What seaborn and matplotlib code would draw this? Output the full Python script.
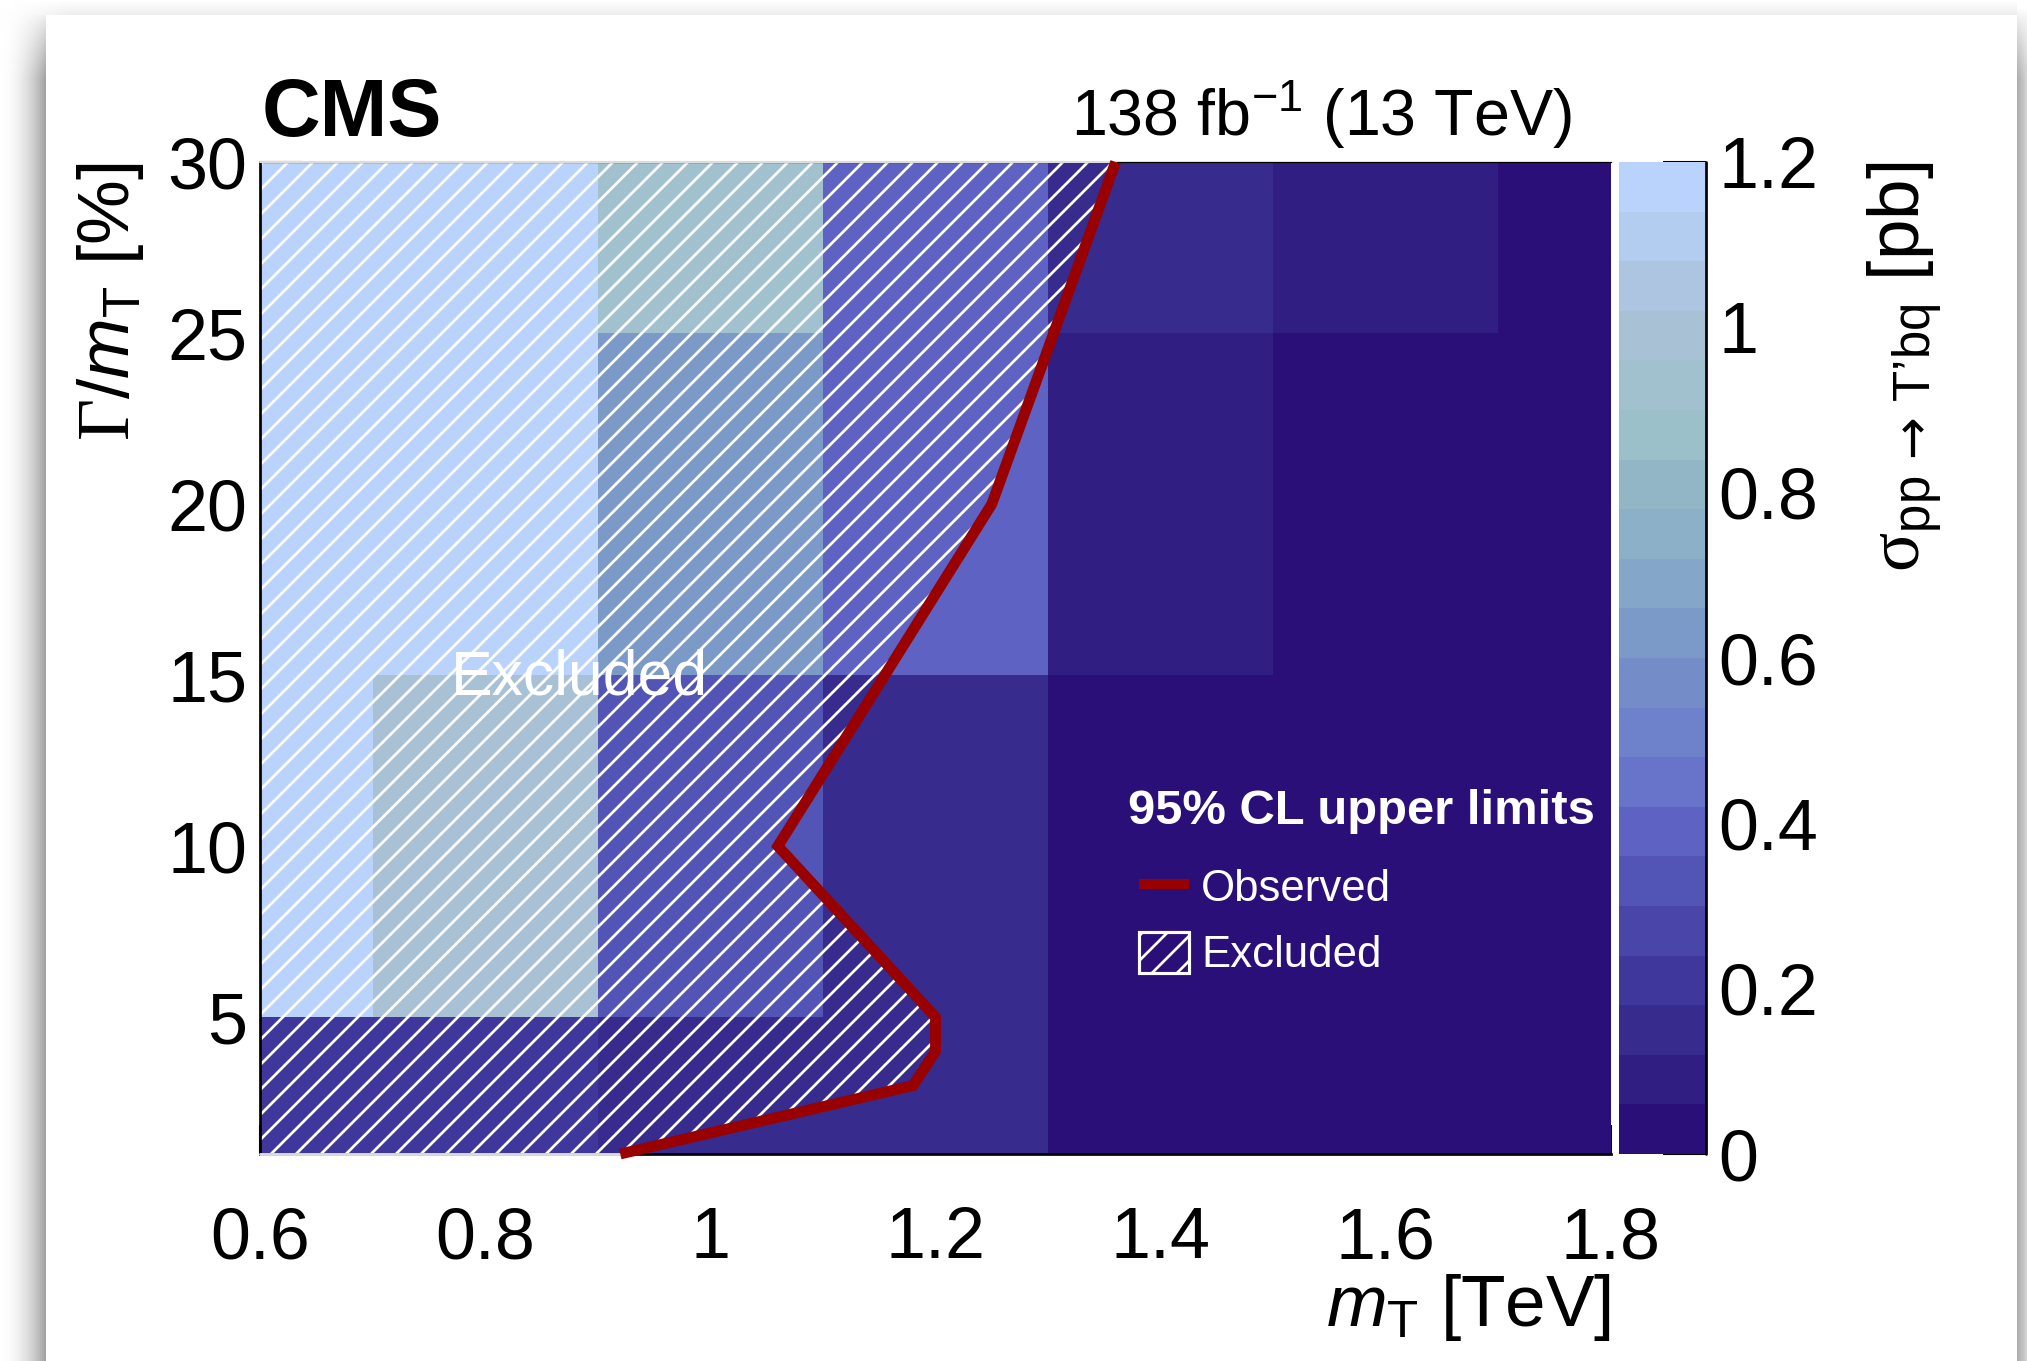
import numpy as np
import matplotlib
matplotlib.use("Agg")
import matplotlib.pyplot as plt
from matplotlib.colors import ListedColormap, BoundaryNorm
from matplotlib.lines import Line2D
from matplotlib.patches import Patch
from matplotlib.ticker import FixedLocator, MultipleLocator, FuncFormatter
import seaborn as sns

# T' mass points [TeV] and relative width points [%]
mass_tev = [0.6, 0.8, 1.0, 1.2, 1.4, 1.6, 1.8]
width_pct = [0, 10, 20, 30]

# observed 95% CL upper limits on sigma(pp -> T'bq) [pb], one list per width point
xsec_w0 = [0.21, 0.21, 0.17, 0.12, 0.04, 0.02, 0.02]
xsec_w10 = [1.25, 0.99, 0.33, 0.15, 0.04, 0.02, 0.02]
xsec_w20 = [1.25, 1.25, 0.63, 0.36, 0.08, 0.03, 0.03]
xsec_w30 = [1.25, 1.25, 0.93, 0.40, 0.16, 0.10, 0.03]

# observed exclusion contour (mass [TeV], width [%])
obs_mass = [0.92, 1.18, 1.20, 1.20, 1.06, 1.25, 1.36]
obs_width = [1, 3, 4, 5, 10, 20, 30]

x_ticks = [0.6, 0.8, 1.0, 1.2, 1.4, 1.6, 1.8]
y_ticks = [5, 10, 15, 20, 25, 30]
z_ticks = [0, 0.2, 0.4, 0.6, 0.8, 1.0, 1.2]

# 20-step palette, from low to high cross section
palette = ["#2b0f78", "#301e83", "#372b8e", "#3f379b", "#4a45a8",
           "#5254b6", "#5d62c3", "#6874c9", "#6e81cb", "#748dc8",
           "#7b9ac8", "#84a6c9", "#8bb0c8", "#93b6c7", "#9cc0c9",
           "#a2c1cf", "#a8c1d4", "#aec5e1", "#b3cdf0", "#b9d3fd"]

W, H, DPI = 2027, 1361, 150

sns.set_theme(style="ticks")
plt.rcParams.update({
    "font.family": ["Liberation Sans", "DejaVu Sans"],
    "mathtext.fontset": "custom",
    "mathtext.rm": "Liberation Sans",
    "mathtext.it": "Liberation Sans:italic",
    "mathtext.bf": "Liberation Sans:bold",
    "mathtext.sf": "Liberation Serif",
    "mathtext.cal": "DejaVu Sans",
    "hatch.linewidth": 1.3,
    "axes.edgecolor": "black",
    "xtick.color": "black",
    "ytick.color": "black",
    "text.color": "black",
})

fig = plt.figure(figsize=(W / DPI, H / DPI), dpi=DPI, facecolor="white")


def fx(px):
    return px / W


def fy(py):
    return 1 - py / H


# page card with a soft drop shadow
bg = fig.add_axes([0, 0, 1, 1], zorder=-10)
yy, xx = np.mgrid[0:H, 0:W].astype(float)
shade = np.ones((H, W))
card_l, card_r, card_t = 46, 2017, 15
fade = np.clip((yy - 8) / 70.0, 0, 1) ** 0.8
left = xx < card_l
shade[left] = 1 - 0.38 * (xx[left] / card_l) ** 2 * fade[left]
top = (yy < card_t) & (xx >= card_l * 0.3) & (xx < card_r)
shade[top] = 1 - 0.07 * (yy[top] / card_t) * np.clip((xx[top] - 10) / 60.0, 0, 1)
right = xx >= card_r
shade[right] = 1 - (0.32 - 0.16 * (xx[right] - card_r) / (W - card_r)) * fade[right]
bg.imshow(np.dstack([shade] * 3), extent=(0, W, H, 0), aspect="auto",
          interpolation="nearest")
bg.set_xlim(0, W)
bg.set_ylim(H, 0)
bg.axis("off")

# main frame
ax = fig.add_axes([fx(260), fy(1154), fx(1611 - 260), (1154 - 162) / H])


def bin_edges(centres, step):
    c = np.asarray(centres, float)
    return np.concatenate([[c[0] - step / 2], (c[:-1] + c[1:]) / 2, [c[-1] + step / 2]])


cmap = ListedColormap(palette)
cmap.set_over(palette[-1])
cmap.set_under(palette[0])
levels = np.linspace(z_ticks[0], z_ticks[-1], len(palette) + 1)
norm = BoundaryNorm(levels, ncolors=len(palette))

xsec = np.array([xsec_w0, xsec_w10, xsec_w20, xsec_w30])
mesh = ax.pcolormesh(bin_edges(mass_tev, 0.2), bin_edges(width_pct, 10), xsec,
                     cmap=cmap, norm=norm, shading="flat", antialiased=False,
                     linewidth=0, zorder=1)

x_lo, x_hi, y_lo, y_hi = 0.6, 1.8, 1, 30

# excluded area: left of the observed contour
ax.fill(obs_mass + [x_lo, x_lo], obs_width + [y_hi, y_lo], facecolor="none",
        edgecolor="white", hatch="//", linewidth=0, zorder=2)

# observed contour
sns.lineplot(x=obs_mass, y=obs_width, sort=False, estimator=None,
             color="#990000", linewidth=5.2, ax=ax, zorder=4)
obs_line = ax.lines[-1]
obs_line.set_clip_on(False)
obs_line.set_solid_capstyle("butt")
obs_line.set_solid_joinstyle("miter")

ax.set_xlim(x_lo, x_hi)
ax.set_ylim(y_lo, y_hi)
ax.set_xlabel("")
ax.set_ylabel("")

fmt = FuncFormatter(lambda v, _: f"{v:g}")
ax.xaxis.set_major_locator(FixedLocator(x_ticks))
ax.xaxis.set_minor_locator(MultipleLocator(0.05))
ax.yaxis.set_major_locator(FixedLocator(y_ticks))
ax.yaxis.set_minor_locator(MultipleLocator(1))
ax.xaxis.set_major_formatter(fmt)
ax.yaxis.set_major_formatter(fmt)
ax.tick_params(axis="x", which="major", direction="in", length=13.9, width=1.0,
               labelsize=34.5, pad=25)
ax.tick_params(axis="x", which="minor", direction="in", length=6.7, width=1.0)
ax.tick_params(axis="y", which="major", direction="in", length=20, width=1.0,
               labelsize=34.5, pad=6)
ax.tick_params(axis="y", which="minor", direction="in", length=10, width=1.0)
ax.spines["right"].set_visible(False)
ax.spines["top"].set_linewidth(0.6)
ax.spines["left"].set_linewidth(1.3)
ax.spines["bottom"].set_linewidth(1.3)

# frame edges under the excluded area are drawn light
ax.plot([x_lo, obs_mass[0]], [y_lo, y_lo], color="#dcdcdc", lw=1.4,
        clip_on=False, zorder=3)
ax.plot([x_lo, obs_mass[-1]], [y_hi, y_hi], color="#dcdcdc", lw=1.0,
        clip_on=False, zorder=3)

ax.text(0.884, 14.42, "Excluded", color="white", fontsize=30,
        ha="center", va="baseline", zorder=5)

# colour scale
cax = fig.add_axes([fx(1618.5), fy(1154), fx(87.5), (1154 - 162) / H])
cb = fig.colorbar(mesh, cax=cax, ticks=z_ticks, extend="neither")
cb.outline.set_visible(False)
cax.axvline(1, color="black", lw=1.3, clip_on=False)
cax.yaxis.set_ticks_position("right")
cax.yaxis.set_major_formatter(fmt)
cax.minorticks_off()
cax.tick_params(axis="y", which="major", direction="in", length=20.6, width=1.0,
                labelsize=34.5, pad=6)

# titles and axis labels
fig.text(fx(262), fy(136), "CMS", fontsize=39, fontweight="bold",
         ha="left", va="baseline")
fig.text(fx(1572), fy(136), r"138 fb$^{\mathrm{-1}}$ (13 TeV)", fontsize=31,
         ha="right", va="baseline")
fig.text(fx(1611), fy(1326), r"$m_{\mathrm{T}}$ [TeV]", fontsize=35,
         ha="right", va="baseline")
fig.text(fx(129), fy(162), r"$\mathsf{\Gamma}/m_{\mathrm{T}}$ [%]", fontsize=35,
         rotation=90, rotation_mode="anchor", ha="right", va="baseline")
fig.text(fx(1920), fy(162),
         r"$\mathsf{\sigma}_{\mathrm{pp}\,\mathcal{\rightarrow}\,\mathrm{T"
         "\u2019"
         r"bq}}$ [pb]",
         fontsize=35, rotation=90, rotation_mode="anchor", ha="right",
         va="baseline")

# legend
fig.text(fx(1128), fy(811), "95% CL upper limits", fontsize=23.5,
         fontweight="bold", color="white", ha="left", va="center")
handles = [Line2D([], [], color="#990000", lw=4.8, solid_capstyle="butt"),
           Patch(facecolor="none", edgecolor="white", hatch="//", lw=1.5)]
ax.legend(handles, ["Observed", "Excluded"], loc="upper left",
          bbox_to_anchor=(fx(1139), fy(866)), bbox_transform=fig.transFigure,
          frameon=False, fontsize=21, labelcolor="white", borderpad=0,
          borderaxespad=0, handlelength=1.15, handleheight=1.07,
          handletextpad=0.27, labelspacing=0.49)

fig.savefig("out.png", dpi=DPI, facecolor="white")
